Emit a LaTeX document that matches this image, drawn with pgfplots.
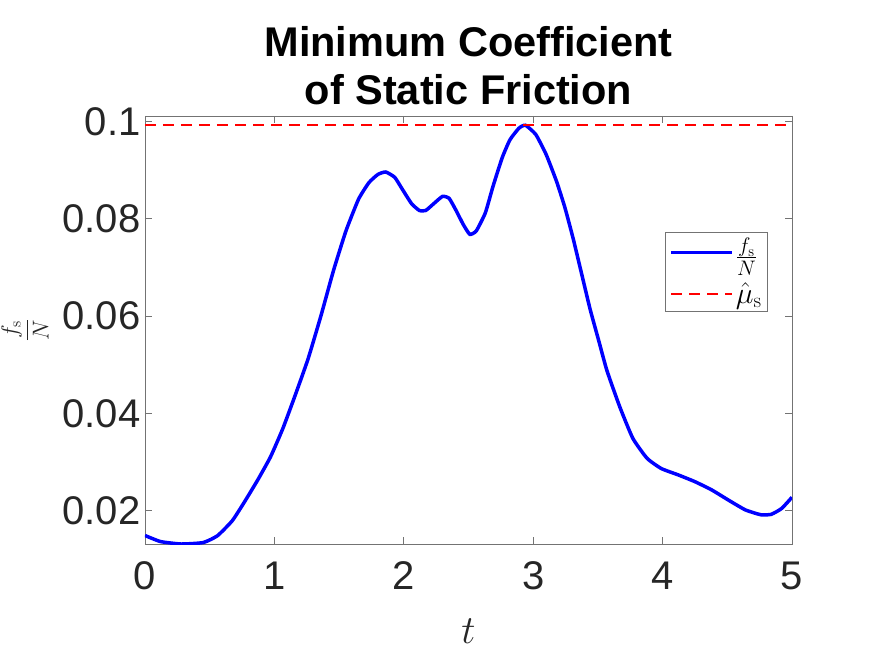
\RequirePackage{fix-cm}
\documentclass[border=0pt]{standalone}
\usepackage{pgfplots}
\pgfplotsset{compat=1.18}
\usepackage[no-math]{fontspec}
\setmainfont{Liberation Sans}
\definecolor{axgray}{RGB}{38,38,38}
\pgfplotstableread{
t v
0.00 0.01495
0.12 0.0137
0.28 0.0132
0.45 0.0135
0.56 0.0149
0.675 0.0180
0.77 0.0219
0.87 0.0263
0.97 0.0311
1.065 0.0369
1.16 0.0437
1.26 0.0512
1.36 0.0601
1.456 0.0693
1.553 0.0775
1.65 0.0840
1.73 0.0874
1.80 0.0891
1.86 0.0896
1.93 0.0885
1.99 0.0860
2.06 0.0831
2.12 0.0817
2.17 0.0817
2.24 0.0833
2.30 0.0846
2.35 0.0842
2.40 0.0819
2.46 0.0788
2.51 0.0768
2.56 0.0775
2.63 0.0812
2.69 0.0867
2.76 0.0925
2.82 0.0962
2.89 0.0986
2.94 0.0992
3.02 0.0973
3.10 0.0932
3.18 0.0877
3.245 0.0823
3.31 0.0758
3.375 0.0686
3.44 0.0614
3.506 0.0550
3.57 0.0488
3.67 0.0413
3.77 0.0349
3.88 0.0308
3.99 0.0287
4.12 0.0274
4.25 0.0260
4.38 0.0243
4.51 0.0222
4.64 0.0202
4.76 0.0192
4.84 0.0193
4.92 0.0205
5.00 0.0228
}\fsdata
\pgfplotstableread{
t v
0 0.0992
5 0.0992
}\mudata
\begin{document}
\begin{tikzpicture}
\begin{axis}[
  scale only axis, width=647pt, height=428pt,
  xmin=0, xmax=5, ymin=0.0132, ymax=0.1011,
  xtick={0,1,2,3,4,5}, xticklabels={0,1,2,3,4,5},
  ytick={0.02,0.04,0.06,0.08,0.1},
  yticklabels={0.02,0.04,0.06,0.08,0.1},
  tick align=inside, xtick pos=both, ytick pos=both,
  major tick length=7pt,
  axis line style={black!55, line width=0.8pt},
  every tick/.style={black!55, line width=0.8pt},
  ticklabel style={font=\fontsize{40}{44}\selectfont, text=axgray},
  xticklabel style={yshift=-14pt},
  yticklabel style={xshift=-1pt},
  title={Minimum Coefficient\\of Static Friction},
  title style={font=\bfseries\fontsize{41.5}{48}\selectfont, align=center, text=black, yshift=2pt},
  xlabel={$t$},
  xlabel style={font=\fontsize{40}{44}\selectfont, text=axgray, yshift=-22pt},
  ylabel={$\displaystyle\frac{f_{\mathrm{s}}}{N}$},
  ylabel style={font=\fontsize{23}{26}\selectfont, text=axgray,
    at={(axis description cs:-0.1855,0.5)}, anchor=center},
  legend style={at={(1,1)}, anchor=north east, xshift=-24pt, yshift=-116pt,
    font=\fontsize{30}{33}\selectfont, draw=black!55, line width=0.8pt,
    inner xsep=4pt, inner ysep=4pt, row sep=12pt, cells={anchor=west}},
  legend image code/.code={\draw[#1] (0pt,0pt) -- (61pt,0pt);},
]
\addplot[blue, line width=3.5pt, smooth, tension=0.3] table[x=t,y=v]{\fsdata};
\addlegendentry{$\frac{f_{\mathrm{s}}}{N}$}
\addplot[red, line width=1.8pt, dash pattern=on 11pt off 7pt] table[x=t,y=v]{\mudata};
\addlegendentry{$\hat{\mu}_{\mathrm{s}}$}
\end{axis}
\pgfresetboundingbox
\path[use as bounding box] ([xshift=-145pt,yshift=-113pt]current axis.south west) rectangle ([xshift=83pt,yshift=116pt]current axis.north east);
\end{tikzpicture}
\end{document}
